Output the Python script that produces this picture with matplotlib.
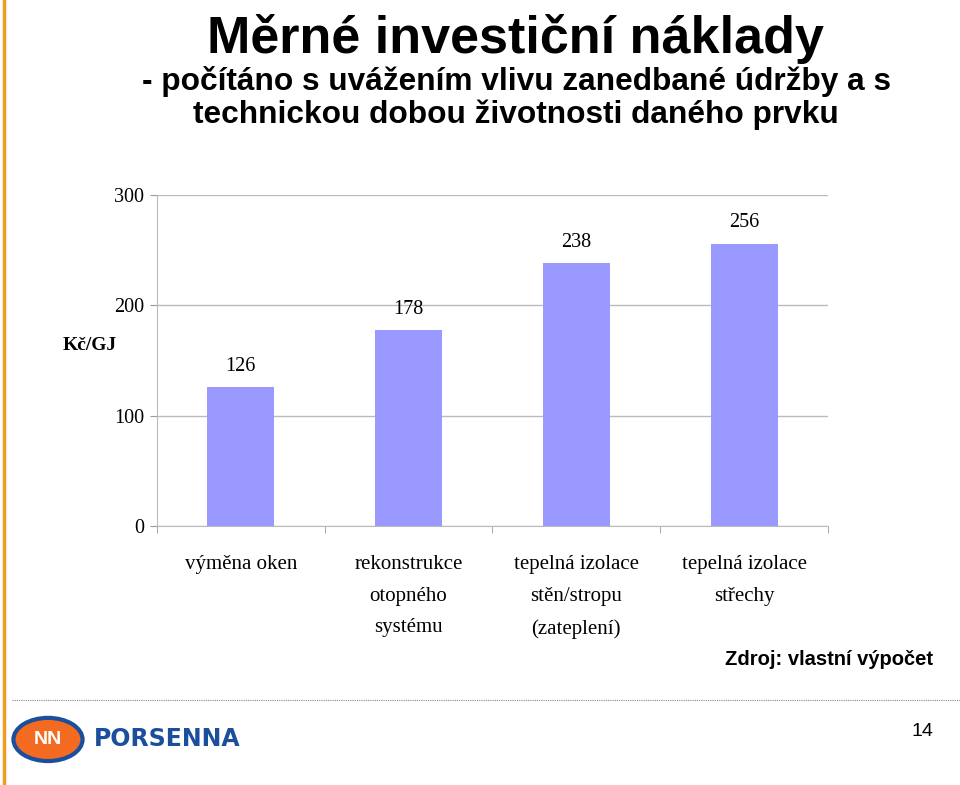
import matplotlib
matplotlib.use("Agg")
import matplotlib.pyplot as plt
from matplotlib.patches import Ellipse
from matplotlib.lines import Line2D

# Data
categories = ["výměna oken", "rekonstrukce\notopného\nsystému",
              "tepelná izolace\nstěn/stropu\n(zateplení)", "tepelná izolace\nstřechy"]
values = [126, 178, 238, 256]
yticks = [0, 100, 200, 300]

fig = plt.figure(figsize=(9.6, 7.85), dpi=100)

# slide decorations
fig.add_artist(Line2D([0.004, 0.004], [0, 1], color="#f39c1f", lw=2.5))
fig.add_artist(Line2D([0.013, 1.0], [0.108, 0.108], color="#888888", lw=0.8, ls=(0, (1, 1))))

fig.text(0.537, 0.9325, "Měrné investiční náklady", ha="center", va="baseline",
         fontsize=37.5, fontweight="bold", family="Liberation Sans")
subtitle = ["- počítáno s uvážením vlivu zanedbané údržby a s",
            "technickou dobou životnosti daného prvku"]
for i, line in enumerate(subtitle):
    fig.text(0.5375, 0.885 - i * 0.042, line, ha="center", va="baseline",
             fontsize=22.8, fontweight="bold", family="Liberation Sans")

ax = fig.add_axes([0.1635, 0.3299, 0.699, 0.4217])
x = range(len(values))
bars = ax.bar(x, values, width=0.4, color="#9999ff", zorder=3)
for b, v in zip(bars, values):
    ax.annotate(str(v), (b.get_x() + b.get_width() / 2, v), xytext=(0, 8),
                textcoords="offset points", ha="center", va="bottom",
                fontsize=14.5, family="Liberation Serif")

ax.set_ylim(0, 300)
ax.set_xlim(-0.5, len(values) - 0.5)
ax.set_yticks(yticks)
ax.set_yticklabels([str(t) for t in yticks], fontsize=14.5, family="Liberation Serif")
ax.yaxis.grid(True, color="#bbbbbb", lw=1, zorder=0)
ax.set_xticks(x)
ax.set_xticklabels(categories, fontsize=15, family="Liberation Serif", va="top", linespacing=1.9)
ax.set_xticks([i - 0.5 for i in range(len(values) + 1)], minor=True)
ax.tick_params(axis="x", which="major", length=0, pad=21)
ax.tick_params(axis="x", which="minor", length=5, color="#999999")
ax.tick_params(axis="y", length=5, color="#999999", pad=4)
for s in ["top", "right"]:
    ax.spines[s].set_visible(False)
ax.spines["left"].set_color("#bbbbbb")
ax.spines["bottom"].set_color("#bbbbbb")
ax.set_ylabel("Kč/GJ", rotation=0, fontsize=14, fontweight="bold", family="Liberation Serif",
              va="center")
ax.yaxis.set_label_coords(-0.1, 0.545)

fig.text(0.972, 0.160, "Zdroj: vlastní výpočet", ha="right", va="center",
         fontsize=14.5, fontweight="bold", family="Liberation Sans")
fig.text(0.972, 0.068, "14", ha="right", va="center", fontsize=14, family="Liberation Sans")

# logo
fig.add_artist(Ellipse((0.050, 0.058), 0.072, 0.055, transform=fig.transFigure,
                       facecolor="#f26b21", edgecolor="#1b4f9c", lw=3))
fig.text(0.050, 0.058, "NN", ha="center", va="center", fontsize=14, fontweight="bold",
         color="white", family="Liberation Sans")
fig.text(0.098, 0.058, "PORSENNA", ha="left", va="center", fontsize=17, fontweight="bold",
         color="#1b4f9c", family="DejaVu Sans")

fig.savefig("out.png", dpi=100)
